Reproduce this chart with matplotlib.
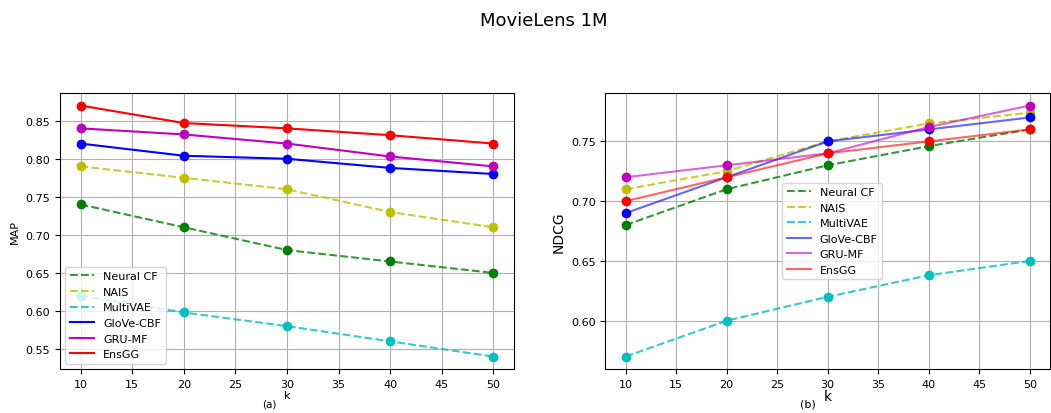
import numpy as np
import matplotlib
matplotlib.use("Agg")
import matplotlib.pyplot as plt

#
# data
#
k = [10, 20, 30, 40, 50]
names = ["Neural CF", "NAIS", "MultiVAE", "GloVe-CBF", "GRU-MF", "EnsGG"]
colors = ["g", "y", "c", "b", "m", "r"]
styles = ["--", "--", "--", "-", "-", "-"]

map_ncf = [0.74, 0.71, 0.68, 0.665, 0.65]
map_nais = [0.79, 0.775, 0.76, 0.73, 0.71]
map_vae = [0.62, 0.598, 0.58, 0.56, 0.54]
map_glove = [0.82, 0.804, 0.80, 0.788, 0.78]
map_gru = [0.84, 0.832, 0.82, 0.803, 0.79]
map_ens = [0.87, 0.847, 0.84, 0.831, 0.82]

ndcg_ncf = [0.68, 0.71, 0.73, 0.746, 0.76]
ndcg_nais = [0.71, 0.725, 0.75, 0.765, 0.774]
ndcg_vae = [0.57, 0.60, 0.62, 0.638, 0.65]
ndcg_glove = [0.69, 0.72, 0.75, 0.76, 0.77]
ndcg_gru = [0.72, 0.73, 0.74, 0.762, 0.78]
ndcg_ens = [0.70, 0.72, 0.74, 0.75, 0.76]

map_vals = [map_ncf, map_nais, map_vae, map_glove, map_gru, map_ens]
ndcg_vals = [ndcg_ncf, ndcg_nais, ndcg_vae, ndcg_glove, ndcg_gru, ndcg_ens]

fig = plt.figure(figsize=(10.51, 4.14), dpi=100)
fig.suptitle("MovieLens 1M", fontsize=13, x=0.517, y=0.97)

ax1 = fig.add_axes([0.057, 0.106, 0.432, 0.667])
ax2 = fig.add_axes([0.576, 0.106, 0.423, 0.667])

#
# left: MAP
#
for vals, name, c, ls in zip(map_vals, names, colors, styles):
    a = 0.8 if ls == "--" else 1.0
    ax1.plot(k, vals, ls, color=c, alpha=a, label=name)
    ax1.plot(k, vals, "o", color=c)
ax1.set_ylabel("MAP", fontsize=8)
ax1.set_xlabel("k", fontsize=8, labelpad=1)
ax1.grid(True)
ax1.tick_params(labelsize=8)
ax1.legend(loc="lower left", fontsize=8, handlelength=2.2)
fig.text(0.256, 0.015, "(a)", fontsize=7.5, ha="center")

#
# right: NDCG
#
for vals, name, c, ls in zip(ndcg_vals, names, colors, styles):
    a = 0.8 if ls == "--" else 0.6
    ax2.plot(k, vals, ls, color=c, alpha=a, label=name)
    ax2.plot(k, vals, "o", color=c)
ax2.set_ylabel("NDCG", fontsize=10)
ax2.set_xlabel("k", fontsize=10, labelpad=0)
ax2.grid(True)
ax2.tick_params(labelsize=8)
ax2.legend(loc="center", bbox_to_anchor=(0.51, 0.50), fontsize=8, handlelength=2.2)
fig.text(0.769, 0.015, "(b)", fontsize=8, ha="center")

plt.savefig("out.png", dpi=100)
